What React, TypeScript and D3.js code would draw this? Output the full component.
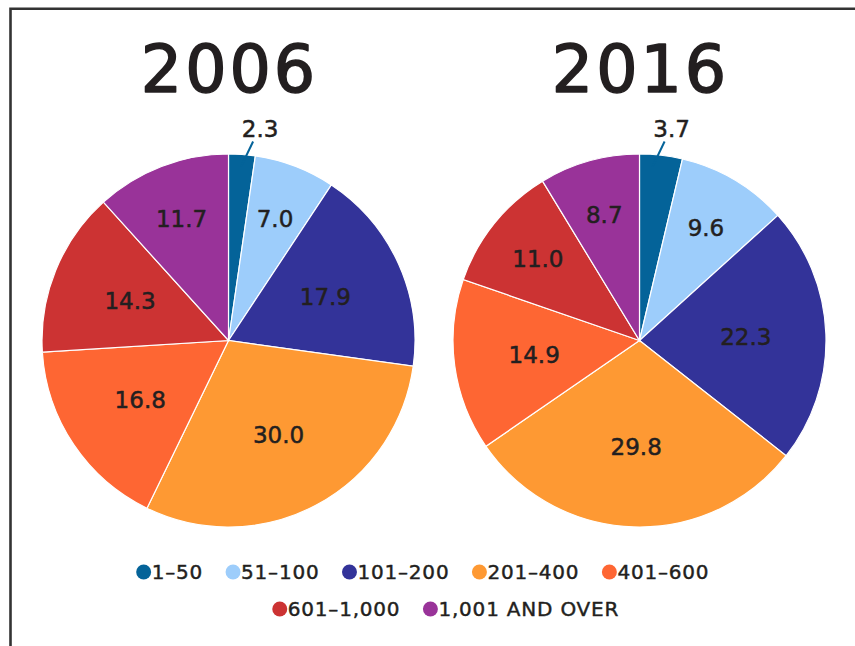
import React, { useEffect, useRef } from 'react';
import * as d3 from 'd3';

const categories = ['1–50', '51–100', '101–200', '201–400', '401–600', '601–1,000', '1,001 AND OVER'];
const years = ['2006', '2016'];
const values2006 = [2.3, 7.0, 17.9, 30.0, 16.8, 14.3, 11.7];
const values2016 = [3.7, 9.6, 22.3, 29.8, 14.9, 11.0, 8.7];
const colors = ['#046399', '#9dcdfb', '#333399', '#fe9933', '#fe6633', '#cc3333', '#993399'];
const legendRows = [[0, 1, 2, 3, 4], [5, 6]];

const FONT = '"DejaVu Sans", sans-serif';
const TEXT = '#231f20';

export default function App() {
  const ref = useRef<SVGSVGElement>(null);

  useEffect(() => {
    const width = 855,
      height = 646,
      radius = 186.5;

    const svg = d3.select(ref.current);
    svg.selectAll('*').remove();

    // frame: top and left rule
    svg
      .append('path')
      .attr('d', `M10.5,${height} L10.5,8.7 L${width},8.7`)
      .attr('fill', 'none')
      .attr('stroke', '#333')
      .attr('stroke-width', 2.6);

    const pie = d3
      .pie<number>()
      .sort(null)
      .value(d => d);

    const arc = d3
      .arc<d3.PieArcDatum<number>>()
      .innerRadius(0)
      .outerRadius(radius);

    const x = d3.scalePoint().domain(years).range([228.5, 639.5]);
    const series = [values2006, values2016];

    const label = (sel, size, weight) =>
      sel
        .attr('font-family', FONT)
        .attr('font-size', size)
        .attr('fill', TEXT)
        .attr('stroke', TEXT)
        .attr('stroke-width', weight)
        .attr('stroke-linejoin', 'round');

    years.forEach((year, yi) => {
      const cx = x(year) as number,
        cy = 340.5;

      svg
        .append('text')
        .attr('x', cx + 1)
        .attr('y', 92)
        .attr('text-anchor', 'middle')
        .attr('letter-spacing', 3)
        .call(label, 65, 1.6)
        .text(year);

      const g = svg.append('g').attr('transform', `translate(${cx},${cy})`);
      const arcs = pie(series[yi]);

      g.selectAll('path')
        .data(arcs)
        .enter()
        .append('path')
        .attr('d', arc)
        .attr('fill', (d, i) => colors[i])
        .attr('stroke', '#fff')
        .attr('stroke-width', 1.2);

      arcs.forEach(d => {
        const txt = d.data.toFixed(1);
        if (d.data < 5) {
          // small slice: label outside with leader line
          const a = d.startAngle + Math.min((d.endAngle - d.startAngle) / 2, 0.075);
          const sx = Math.sin(a) * (radius - 12),
            sy = -Math.cos(a) * (radius - 12);
          g.append('line')
            .attr('x1', sx)
            .attr('y1', sy)
            .attr('x2', sx + 12)
            .attr('y2', sy - 25)
            .attr('stroke', colors[0])
            .attr('stroke-width', 2);
          g.append('text')
            .attr('x', sx + 19)
            .attr('y', sy - 38)
            .attr('dy', '0.36em')
            .attr('text-anchor', 'middle')
            .call(label, 23, 0.5)
            .text(txt);
          return;
        }
        const lr = d.data >= 14 ? radius * 0.57 : radius * 0.7;
        const a = (d.startAngle + d.endAngle) / 2;
        g.append('text')
          .attr('x', Math.sin(a) * lr)
          .attr('y', -Math.cos(a) * lr)
          .attr('dy', '0.36em')
          .attr('text-anchor', 'middle')
          .call(label, 23, 0.5)
          .text(txt);
      });
    });

    // legend, each row centred
    const rowCentres = [423, 446];
    const rowY = [572, 609];
    legendRows.forEach((row, ri) => {
      const lg = svg.append('g');
      let pos = 0;
      row.forEach((ci, k) => {
        const item = lg.append('g').attr('transform', `translate(${pos},0)`);
        item
          .append('circle')
          .attr('cx', 7)
          .attr('cy', 0)
          .attr('r', 7.5)
          .attr('fill', colors[ci]);
        const t = item
          .append('text')
          .attr('x', 15)
          .attr('y', 0)
          .attr('dy', '0.36em')
          .attr('letter-spacing', 0.8)
          .call(label, 20, 0.45)
          .text(categories[ci]);
        const w = (t.node() as SVGTextElement).getComputedTextLength();
        pos += 15 + w + (k < row.length - 1 ? 23 : 0);
      });
      lg.attr('transform', `translate(${rowCentres[ri] - pos / 2},${rowY[ri]})`);
    });
  }, []);

  return (
    <svg
      ref={ref}
      width={855}
      height={646}
      style={{ position: 'absolute', left: 0, top: 0, display: 'block', background: '#fff' }}
    />
  );
}
